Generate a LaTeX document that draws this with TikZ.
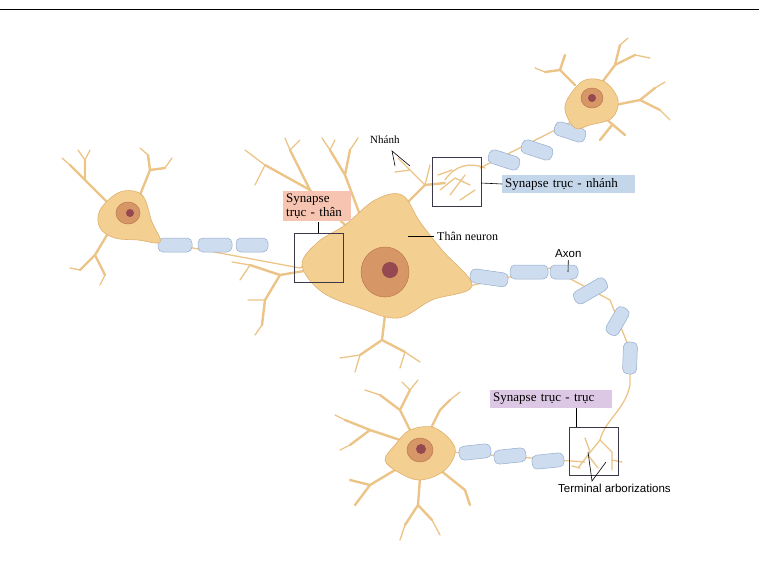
\documentclass[tikz,border=0pt]{standalone}
\usepackage{fontspec}
\setmainfont{Liberation Serif}
\newfontfamily\sansf{Liberation Sans}
\begin{document}
\begin{tikzpicture}[x=1pt,y=-1pt,
 body/.style={fill=cellc,draw=celld,line width=0.6},
 dend/.style={draw=dendc,line width=2.4,line cap=round,line join=round},
 dth/.style={draw=dendc,line width=1.3,line cap=round,line join=round},
 myel/.style={fill=myc,draw=myd,line width=0.5,rounded corners=5},
 nuc/.style={fill=nucc,draw=nucd,line width=0.5},
 nl/.style={fill=nlc},
 sbox/.style={draw=boxc,line width=0.9},
 lab/.style={font=\fontsize{13}{14}\selectfont,inner sep=3pt,anchor=west,align=left},
 sl/.style={font=\sansf\fontsize{11.5}{13}\selectfont,inner sep=2pt,anchor=west},
 ln/.style={draw=black,line width=0.6}]
\definecolor{cellc}{RGB}{244,207,146}
\definecolor{celld}{RGB}{222,176,108}
\definecolor{dendc}{RGB}{236,196,136}
\definecolor{myc}{RGB}{205,220,238}
\definecolor{myd}{RGB}{150,172,205}
\definecolor{nucc}{RGB}{214,150,102}
\definecolor{nucd}{RGB}{185,120,80}
\definecolor{nlc}{RGB}{150,72,80}
\definecolor{boxc}{RGB}{60,55,75}
\definecolor{pinkc}{RGB}{246,196,176}
\definecolor{bluec}{RGB}{196,214,234}
\definecolor{lavc}{RGB}{220,200,228}
\useasboundingbox (0,0) rectangle (759,573);
\draw[line width=0.8] (0,9) -- (759,9);
\draw[dth] (150,240) -- (300,268);
\foreach \a/\b in {158/192,198/232,236/268}{
  \draw[myel] (\a,238) rectangle (\b,252);}
\draw[dth] (460,288) -- (550,268) -- (610,300) -- (630,350) -- (630,385) .. controls (625,410) and (605,420) .. (600,440);
\draw[myel,rotate around={-8:(490,278)}] (470,271) rectangle (508,285);
\draw[myel] (510,265) rectangle (548,279);
\draw[myel] (550,265) rectangle (578,279);
\draw[myel,rotate around={30:(590,290)}] (572,284) rectangle (608,298);
\draw[myel,rotate around={60:(617,322)}] (603,315) rectangle (633,329);
\draw[myel,rotate around={88:(630,358)}] (614,351) rectangle (646,365);
\draw[dth] (575,120) -- (480,168);
\foreach \cx/\cy in {570/132,537/150,504/160}{
  \draw[myel,rotate around={-18:(\cx,\cy)}] (\cx-16,\cy-7) rectangle (\cx+16,\cy+7);}
\draw[dth] (450,452) -- (585,462);
\foreach \cx/\cy in {475/452,510/456,548/461}{
  \draw[myel,rotate around={6:(\cx,\cy)}] (\cx-16,\cy-7) rectangle (\cx+16,\cy+7);}
\draw[dth] (600,440) -- (588,455) -- (578,468);
\draw[dth] (600,440) -- (612,452) -- (612,470);
\draw[dth] (590,452) -- (585,438) (588,455) -- (598,468) (612,460)--(622,462) (580,468)--(572,466);
\draw[dth] (445,180) .. controls (455,165) and (470,162) .. (485,168);
\draw[dth] (440,190) -- (455,178) -- (470,185) (450,195) -- (465,175) (460,200)--(475,190) (438,175)--(452,170);
\draw[dth] (300,268) -- (315,258) -- (322,245) (315,258)--(328,262) (310,270)--(322,275) (320,250)--(330,240);
\draw[dend] (350,230) -- (310,190) -- (265,165) (310,190) -- (300,170) -- (290,150);
\draw[dth] (265,165) -- (245,150) (265,165) -- (255,185) (290,150) -- (285,138) (290,150)--(300,140);
\draw[dend] (360,215) -- (345,175) -- (330,150) (345,175) -- (350,150);
\draw[dth] (330,150) -- (322,138) (350,150) -- (358,138) (330,150)--(335,140);
\draw[dend] (310,270) -- (280,275) -- (250,265) (280,275) -- (265,300) -- (262,325);
\draw[dth] (250,265) -- (232,262) (250,265)--(240,280) (265,300)--(248,300) (262,325)--(255,335);
\draw[dend] (385,315) -- (382,340) -- (360,355) (382,340) -- (405,352);
\draw[dth] (360,355) -- (340,358) (360,355)--(355,372) (405,352)--(420,362) (405,352)--(400,368);
\draw[dend] (405,205) -- (425,185) -- (445,183);
\draw[dth] (425,185) -- (410,170) -- (398,158) (410,170)--(395,172) (425,185)--(430,165);
\draw[body] plot[smooth cycle,tension=0.6] coordinates {(318,242)(345,225)(375,200)(402,195)(420,222)(442,250)(472,286)(432,300)(398,318)(360,308)(322,292)(302,265)};
\draw[nuc] (385,272) ellipse (24 and 25);
\fill[nl] (390,270) ellipse (8 and 8);
\draw[dend] (110,205) -- (85,180) -- (70,165) (85,180)--(85,160);
\draw[dth] (70,165)--(62,158) (85,160)--(90,150) (85,160)--(78,150);
\draw[dend] (140,195) -- (150,170) -- (148,155) (150,170)--(165,168);
\draw[dth] (148,155)--(140,148) (165,168)--(172,158);
\draw[dend] (110,230) -- (95,255) -- (80,270) (95,255)--(105,275);
\draw[dth] (80,270)--(70,268) (105,275)--(100,285);
\draw[body] plot[smooth cycle,tension=0.6] coordinates {(100,210)(120,192)(142,195)(152,222)(160,242)(138,240)(115,238)(100,228)};
\draw[nuc] (128,213) ellipse (12 and 11);
\fill[nl] (130,213) ellipse (4 and 4);
\draw[dend] (600,85) -- (615,65) -- (635,55) (615,65)--(620,45);
\draw[dth] (635,55)--(650,58) (620,45)--(628,38);
\draw[dend] (575,85) -- (560,70) -- (545,72) (560,70)--(565,55);
\draw[dth] (545,72)--(535,68);
\draw[dend] (615,105) -- (640,100) -- (660,110) (640,100)--(655,88);
\draw[dth] (660,110)--(670,120) (655,88)--(665,82);
\draw[dend] (605,118) -- (625,135) (612,125)--(600,140);
\draw[body] plot[smooth cycle,tension=0.6] coordinates {(570,95)(585,80)(605,82)(618,100)(612,118)(590,125)(575,128)(565,110)};
\draw[nuc] (592,98) ellipse (11 and 10);
\fill[nl] (592,98) ellipse (4 and 4);
\draw[dend] (410,430) -- (400,410) -- (380,395) (400,410)--(410,390);
\draw[dth] (380,395)--(365,390) (410,390)--(418,380) (410,390)--(402,382);
\draw[dend] (430,430) -- (440,410) -- (450,400);
\draw[dth] (450,400)--(460,392);
\draw[dend] (400,440) -- (370,430) -- (345,420) (370,430)--(350,445);
\draw[dth] (345,420)--(335,415) (350,445)--(340,450);
\draw[dend] (395,470) -- (370,485) -- (355,505) (370,485)--(350,480);
\draw[dend] (420,478) -- (418,505) -- (405,525) (418,505)--(432,520);
\draw[dth] (405,525)--(400,540) (432,520)--(440,535);
\draw[dend] (440,470) -- (465,490) -- (470,505);
\draw[body] plot[smooth cycle,tension=0.6] coordinates {(395,445)(410,430)(435,428)(455,448)(445,470)(420,480)(398,472)(385,460)};
\draw[nuc] (420,450) ellipse (13 and 12);
\fill[nl] (421,449) ellipse (5 and 5);
\draw[sbox] (294,233) rectangle (343,282);
\coordinate (b1) at (318,233);
\draw[sbox] (432,157) rectangle (481,206);
\coordinate (b2) at (481,183);
\draw[sbox] (569,427) rectangle (618,475);
\coordinate (b3) at (576,427);
\node[lab,fill=pinkc,text width=62pt] (l1) at (283,206) {Synapse\\trục - thân};
\draw[ln] (b1) -- (b1|-l1.south);
\node[lab,fill=bluec,text width=127pt] (l2) at (502,184) {Synapse trục - nhánh};
\draw[ln] (b2) -- (l2.west);
\node[lab,fill=lavc,text width=116pt] (l3) at (490,399) {Synapse trục - trục};
\draw[ln] (b3) -- (b3|-l3.south);
\node[lab,font=\fontsize{11}{12}\selectfont] (l4) at (367,140) {Nhánh};
\coordinate (n1) at (395,166); \coordinate (n2) at (410,166);
\draw[ln] (n1) -- (392,151) -- (n2);
\node[lab,font=\fontsize{12}{13}\selectfont] (l5) at (434,236) {Thân neuron};
\coordinate (t1) at (408,236);
\draw[ln] (t1) -- (l5.west);
\node[sl] (l6) at (553,254) {Axon};
\coordinate (a1) at (568,272);
\draw[ln] (l6.south) -- (a1);
\node[sl] (l7) at (556,488) {Terminal arborizations};
\coordinate (t2) at (588,452); \coordinate (t3) at (606,462);
\draw[ln] (t2) -- (592,481) -- (t3);
\end{tikzpicture}
\end{document}
